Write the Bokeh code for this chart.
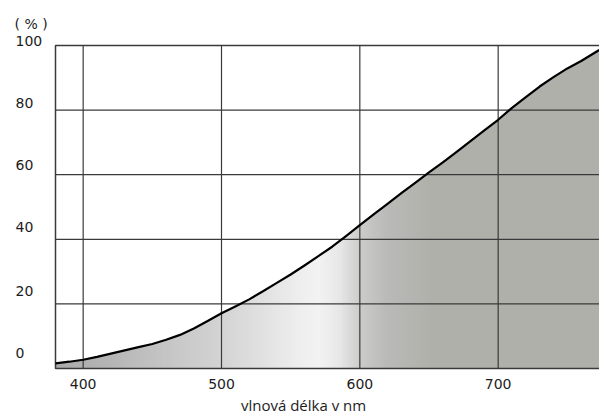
import numpy as np
from bokeh.plotting import figure
from bokeh.models import Range1d
from bokeh.core.properties import value
from bokeh.embed import file_html
from bokeh.resources import INLINE

# ---- data ----
wavelength = [380, 390, 400, 410, 420, 430, 440, 450, 460, 470, 480, 490, 500,
              510, 520, 530, 540, 550, 560, 570, 580, 590, 600, 610, 620, 630,
              640, 650, 660, 670, 680, 690, 700, 710, 720, 730, 740, 750, 760, 773]
transmission = [1.6, 2.1, 2.7, 3.6, 4.6, 5.6, 6.6, 7.6, 8.9, 10.4, 12.4, 14.7, 17.1,
                19.2, 21.4, 23.9, 26.5, 29.1, 31.9, 34.8, 37.7, 41.0, 44.4, 47.7, 51.0,
                54.3, 57.5, 60.7, 63.8, 67.1, 70.4, 73.7, 77.0, 80.7, 84.0, 87.3,
                90.2, 92.9, 95.2, 98.6]
x_ticks = [400, 500, 600, 700]
x_tick_labels = ["400", "500", "600", "700"]
y_ticks = [0, 20, 40, 60, 80, 100]
y_tick_labels = ["0", "20", "40", "60", "80", "100"]
x_title = "vlnová délka v nm"
y_unit = "( % )"

# ---- layout / style ----
W, H = 599, 413
frame_l, frame_r, frame_t, frame_b = 55, 599, 45, 368
x_lo, y_lo, y_hi = 380, 0, 100
ppn = (498 - 83) / 300.0                 # pixels per nm (400 -> 83px, 700 -> 498px)
ppu = (frame_b - frame_t) / 100.0        # pixels per percent
xs = x_lo - frame_l / ppn
xe = x_lo + (W - frame_l) / ppn
ys = y_lo - (H - frame_b) / ppu
ye = y_hi + frame_t / ppu

y_label_offsets = np.array([16, 13, 12, 10, 7, 5])   # px above the grid line
grad_wl = [380, 420, 460, 500, 530, 555, 570, 585, 600, 620, 650, 773]
grad_gray = [170, 182, 198, 212, 226, 238, 243, 232, 205, 186, 177, 176]
text_col = "#1c1c1c"
grid_col = "#3a3a3a"

p = figure(width=W, height=H, output_backend="svg", toolbar_location=None,
           x_range=Range1d(xs, xe), y_range=Range1d(ys, ye),
           min_border=0)
p.axis.visible = False
p.grid.visible = False
p.outline_line_color = None
p.background_fill_color = "white"
p.border_fill_color = "white"

# gradient fill under the curve: gradient image, then white mask above the curve
ncol = 400
cols = np.linspace(x_lo, xe, ncol)
g = np.interp(cols, grad_wl, grad_gray)
b = g - np.clip((cols - 590) / 60.0, 0, 1) * 5
img = np.zeros((1, ncol), dtype=np.uint32)
view = img.view(dtype=np.uint8).reshape((1, ncol, 4))
view[0, :, 0] = g.astype(np.uint8)
view[0, :, 1] = g.astype(np.uint8)
view[0, :, 2] = b.astype(np.uint8)
view[0, :, 3] = 255
p.image_rgba(image=[img], x=x_lo, y=y_lo, dw=xe - x_lo, dh=y_hi - y_lo, level="image")
p.varea(x=wavelength, y1=transmission, y2=y_hi, fill_color="white", level="image")

# grid lines
p.segment(x0=x_ticks, y0=y_lo, x1=x_ticks, y1=y_hi, line_color=grid_col,
          line_width=1.2, level="underlay")
p.segment(x0=x_lo, y0=y_ticks[1:], x1=xe, y1=y_ticks[1:], line_color=grid_col,
          line_width=1.2, level="underlay")
# plot frame
p.quad(left=x_lo, right=xe + 2, bottom=y_lo, top=y_hi, fill_color=None,
       line_color=grid_col, line_width=1.5, level="underlay")

# curve
p.line(wavelength, transmission, line_color="black", line_width=2.2,
       line_join="round")

# tick labels
p.text(x=x_ticks, y=y_lo - 15 / ppu, text=x_tick_labels, text_align="center",
       text_baseline="middle", text_font=value("DejaVu Sans"),
       text_font_size="14px", text_color=text_col)
p.text(x=x_lo - 40 / ppn, y=np.array(y_ticks) + y_label_offsets / ppu,
       text=y_tick_labels, text_align="left", text_baseline="middle",
       text_font=value("DejaVu Sans"), text_font_size="14px", text_color=text_col)
p.text(x=[x_lo - 41 / ppn], y=[y_hi + 22 / ppu], text=[y_unit], text_align="left",
       text_baseline="middle", text_font=value("DejaVu Sans"),
       text_font_size="14px", text_color=text_col)
p.text(x=[x_lo + (303 - frame_l) / ppn], y=[y_lo - 36 / ppu], text=[x_title],
       text_align="center", text_baseline="middle", text_font=value("Open Sans"),
       text_font_size="15px", text_color=text_col)

open("out.html", "w").write(file_html(p, INLINE))
